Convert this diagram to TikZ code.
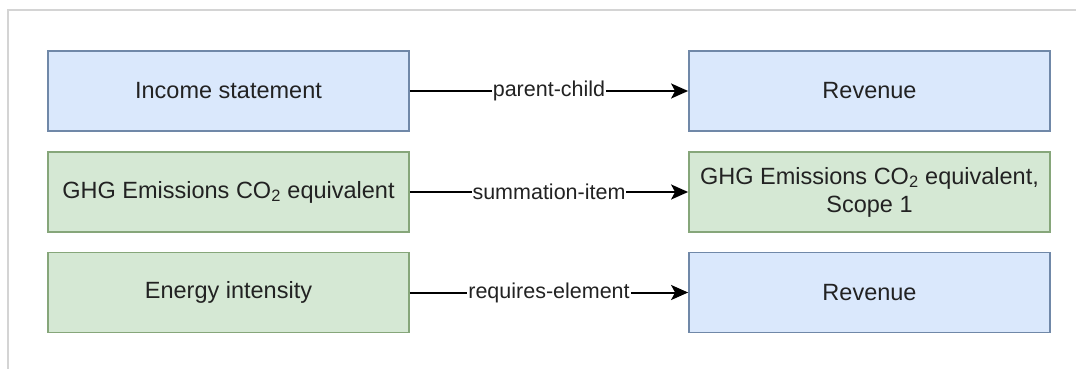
\documentclass[tikz,border=0pt]{standalone}
\usepackage{fontspec}
\setmainfont{Liberation Sans}
\usetikzlibrary{arrows.meta}
\definecolor{bluefill}{HTML}{DAE8FC}
\definecolor{bluedraw}{HTML}{7088A8}
\definecolor{greenfill}{HTML}{D5E8D4}
\definecolor{greendraw}{HTML}{86A67A}
\definecolor{framegray}{HTML}{D4D4D4}
\definecolor{txt}{HTML}{222222}
\tikzset{
  box/.style={rectangle, minimum width=361pt, minimum height=80pt, inner sep=0pt,
    line width=1.8pt, text=txt, align=center,
    font=\fontsize{23.5}{28}\selectfont},
  bluebox/.style={box, fill=bluefill, draw=bluedraw},
  greenbox/.style={box, fill=greenfill, draw=greendraw},
  rel/.style={line width=2pt, -{Stealth[length=17pt,width=15pt,inset=4pt]}},
  rellabel/.style={fill=white, inner sep=1pt, text=txt, font=\fontsize{21.5}{26}\selectfont}
}
\begin{document}
\begin{tikzpicture}[x=1pt,y=-1pt]
\useasboundingbox (0,0) rectangle (1076,369);
\coordinate (f1) at (8,369);
\coordinate (f2) at (8,10);
\coordinate (f3) at (1076,10);
\draw[framegray, line width=1.5pt] (f1) -- (f2) -- (f3);

\node[bluebox]  (l1) at (228.5,91)  {Income statement};
\node[greenbox] (l2) at (228.5,192) {GHG Emissions CO\textsubscript{2} equivalent};
\node[greenbox] (l3) at (228.5,292.5) {Energy intensity};

\node[bluebox]  (r1) at (869.5,91)  {Revenue};
\node[greenbox] (r2) at (869.5,192) {GHG Emissions CO\textsubscript{2} equivalent,\\Scope 1};
\node[bluebox]  (r3) at (869.5,292.5) {Revenue};

\draw[rel] (l1) -- node[rellabel] {parent-child} (r1);
\draw[rel] (l2) -- node[rellabel] {summation-item} (r2);
\draw[rel] (l3) -- node[rellabel] {requires-element} (r3);
\end{tikzpicture}
\end{document}
